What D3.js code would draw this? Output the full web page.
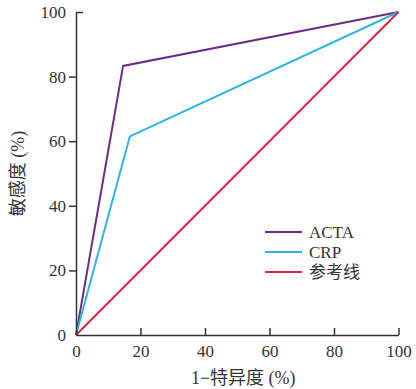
<!DOCTYPE html>
<html><head><meta charset="utf-8">
<script src="https://cdn.jsdelivr.net/npm/d3@7"></script>
<style>body{margin:0;background:#fff}svg{display:block}</style>
</head><body>
<svg id="c" width="416" height="389"></svg>
<script>
const xTicks = [0, 20, 40, 60, 80, 100];
const yTicks = [0, 20, 40, 60, 80, 100];
const seriesNames = ["ACTA", "CRP", "参考线"];
const seriesColors = ["#6e2c85", "#2bb6e2", "#dc2640"];
const actaX = [0, 14.6, 100];
const actaY = [0, 83.3, 100];
const crpX = [0, 16.7, 100];
const crpY = [0, 61.5, 100];
const refX = [0, 100];
const refY = [0, 100];

const font = "'Liberation Serif','Noto Sans CJK SC',serif";
const svg = d3.select("#c");
const m = {l: 76, t: 12, r: 398.5, b: 335};
const x = d3.scaleLinear().domain([0, 100]).range([m.l, m.r]);
const y = d3.scaleLinear().domain([0, 100]).range([m.b, m.t]);
const axisColor = "#333";

const series = [[actaX, actaY], [crpX, crpY], [refX, refY]];
const line = d3.line().x(d => x(d[0])).y(d => y(d[1]));
series.forEach((s, i) => {
  const pts = s[0].map((v, j) => [v, s[1][j]]);
  svg.append("path").attr("d", line(pts)).attr("fill", "none")
    .attr("stroke", seriesColors[i]).attr("stroke-width", 2);
});

const gx = svg.append("g").attr("transform", `translate(0,${m.b})`)
  .call(d3.axisBottom(x).tickValues(xTicks).tickSize(-7).tickSizeOuter(0).tickPadding(10));
const gy = svg.append("g").attr("transform", `translate(${m.l},0)`)
  .call(d3.axisLeft(y).tickValues(yTicks).tickSize(7).tickSizeOuter(0).tickPadding(3));
[gx, gy].forEach(g => {
  g.select(".domain").attr("stroke", axisColor).attr("stroke-width", 1.5);
  g.selectAll(".tick line").attr("stroke", axisColor).attr("stroke-width", 1.5);
  g.selectAll(".tick text").attr("fill", "#333").style("font-family", font).style("font-size", "17px");
});
gx.selectAll(".tick text").attr("dy", "0.71em");
// hide y tick at 0 and 100 (top gets inward stub)
gy.selectAll(".tick line").filter(d => d === 0 || d === 100).attr("x2", d => d === 100 ? 7 : 0);
gx.selectAll(".tick line").filter(d => d === 0).attr("y2", 0);

svg.append("text").attr("x", (m.l + m.r) / 2 + 6).attr("y", 384).attr("text-anchor", "middle")
  .style("font-family", font).style("font-size", "18px").attr("fill", "#333").text("1−特异度 (%)");
svg.append("text").attr("transform", `translate(24,${(m.t + m.b) / 2}) rotate(-90)`)
  .attr("text-anchor", "middle").style("font-family", font).style("font-size", "18px")
  .attr("fill", "#333").text("敏感度 (%)");

const lg = svg.append("g");
seriesNames.forEach((n, i) => {
  const yy = 232 + i * 20;
  lg.append("line").attr("x1", 265).attr("x2", 302).attr("y1", yy).attr("y2", yy)
    .attr("stroke", seriesColors[i]).attr("stroke-width", 2);
  lg.append("text").attr("x", 309).attr("y", yy).attr("dy", "0.35em")
    .style("font-family", font).style("font-size", "17px").attr("fill", "#333").text(n);
});
</script>
</body></html>
